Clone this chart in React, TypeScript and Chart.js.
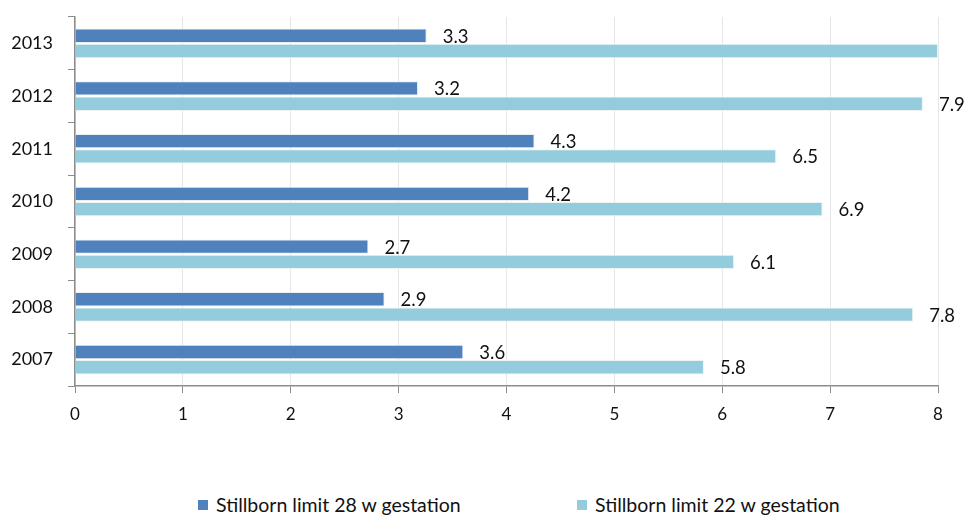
import React, { useEffect, useRef } from "react";
import { Chart, registerables } from "chart.js";

Chart.register(...registerables);

const categories = ["2013", "2012", "2011", "2010", "2009", "2008", "2007"];
const series28Name = "Stillborn limit 28 w gestation";
const series22Name = "Stillborn limit 22 w gestation";
const series28 = [3.26, 3.18, 4.26, 4.21, 2.72, 2.87, 3.6];
const series22 = [8.0, 7.86, 6.5, 6.93, 6.11, 7.77, 5.83];
const xTicks = [0, 1, 2, 3, 4, 5, 6, 7, 8];
const xMax = 8;

const color28 = "#4F81BD";
const color22 = "#93CDDD";
const FONT = "Lato, 'Open Sans', sans-serif";

const labelPlugin = {
  id: "barLabels",
  afterDatasetsDraw(chart: any) {
    const ctx = chart.ctx;
    ctx.save();
    ctx.font = `18.5px ${FONT}`;
    ctx.fillStyle = "#111";
    ctx.textBaseline = "middle";
    ctx.textAlign = "left";
    chart.data.datasets.forEach((ds: any, di: number) => {
      const meta = chart.getDatasetMeta(di);
      meta.data.forEach((bar: any, i: number) => {
        const v = Number(ds.data[i]);
        if (v >= xMax) return; // label falls outside the picture in the original
        const txt = v.toFixed(1);
        ctx.fillText(txt, bar.x + 16, bar.y + 1);
      });
    });
    ctx.restore();
  },
};

export default function App() {
  const ref = useRef<HTMLCanvasElement>(null);
  useEffect(() => {
    const prevMargin = document.body.style.margin;
    document.body.style.margin = "0";
    document.body.style.overflow = "hidden";
    document.documentElement.style.overflow = "hidden";
    if (!ref.current) return;
    const chart = new Chart(ref.current, {
      type: "bar",
      data: {
        labels: categories,
        datasets: [
          {
            label: series28Name,
            data: series28,
            backgroundColor: color28,
            borderColor: "#e9eef5",
            borderWidth: 1,
            categoryPercentage: 0.58,
            barPercentage: 0.94,
          },
          {
            label: series22Name,
            data: series22,
            backgroundColor: color22,
            borderColor: "#eef2f3",
            borderWidth: 1,
            categoryPercentage: 0.58,
            barPercentage: 0.94,
          },
        ],
      },
      options: {
        indexAxis: "y",
        animation: false,
        responsive: false,
        maintainAspectRatio: false,
        layout: { padding: { left: 0, right: 28, top: 9, bottom: 0 } },
        plugins: { legend: { display: false }, tooltip: { enabled: false } },
        scales: {
          x: {
            min: 0,
            max: xMax,
            afterBuildTicks: (s: any) => {
              s.ticks = xTicks.map((v) => ({ value: v }));
            },
            afterFit: (s: any) => {
              s.height = 62;
              s.paddingLeft = 0;
              s.paddingRight = 0;
            },
            grid: {
              color: "#e6e6e6",
              tickColor: "#8c8c8c",
              tickLength: 7,
              drawTicks: true,
            },
            border: { display: true, color: "#8c8c8c", width: 1.5 },
            ticks: {
              padding: 11,
              color: "#111",
              font: { family: FONT, size: 17 },
            },
          },
          y: {
            afterFit: (s: any) => {
              s.width = 67;
              s.paddingTop = 0;
              s.paddingBottom = 0;
            },
            grid: {
              offset: true,
              color: "rgba(0,0,0,0)",
              tickColor: "#8c8c8c",
              tickLength: 7,
              drawTicks: true,
            },
            border: { display: true, color: "#8c8c8c", width: 1.5 },
            ticks: {
              padding: 15,
              color: "#111",
              font: { family: FONT, size: 18 },
            },
          },
        },
      },
      plugins: [labelPlugin],
    } as any);
    return () => {
      chart.destroy();
      document.body.style.margin = prevMargin;
    };
  }, []);

  const legendItems = [
    { name: series28Name, color: color28, left: 198 },
    { name: series22Name, color: color22, left: 577 },
  ];

  return (
    <div
      style={{
        width: 966,
        height: 515,
        overflow: "hidden",
        position: "relative",
        boxSizing: "border-box",
        paddingLeft: 8,
        paddingTop: 8,
        background: "#fff",
      }}
    >
      <canvas ref={ref} width={958} height={440} style={{ display: "block" }} />
      {legendItems.map((it, i) => (
        <div
          key={i}
          style={{
            position: "absolute",
            left: it.left,
            top: 495,
            height: 20,
            display: "flex",
            alignItems: "center",
            fontFamily: FONT,
            fontSize: 19.5,
            lineHeight: "20px",
            color: "#111",
            whiteSpace: "nowrap",
          }}
        >
          <span
            style={{
              display: "inline-block",
              width: 10,
              height: 10,
              background: it.color,
              marginRight: 8,
            }}
          />
          <span>{it.name}</span>
        </div>
      ))}
    </div>
  );
}
